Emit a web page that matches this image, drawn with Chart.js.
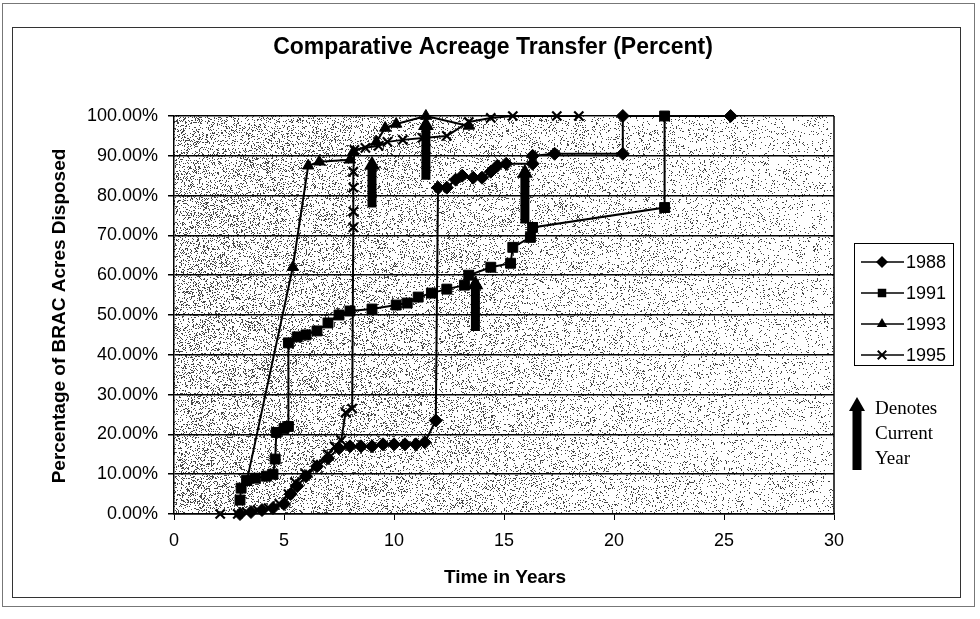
<!DOCTYPE html>
<html>
<head>
<meta charset="utf-8">
<script src="https://cdn.jsdelivr.net/npm/chart.js@4.4.1/dist/chart.umd.min.js"></script>
<style>
  html, body { margin: 0; padding: 0; background: #fff; }
  #wrap { width: 980px; height: 619px; position: relative; }
</style>
</head>
<body>
<div id="wrap"><canvas id="chartAcreage" width="980" height="619"></canvas></div>
<script>
// valores (anos desde o fechamento x percentual de acres)
const seriesLabels = ['1988', '1991', '1993', '1995'];
const pointStyles = ['rectRot', 'rect', 'triangle', 'crossRot'];
const pointSizes = [6.5, 7, 6.5, 6.5];

const t1988 = [3.0, 3.5, 4.0, 4.5, 5.0, 5.3, 5.6, 6.0, 6.5, 7.0, 7.5, 8.0, 8.5, 9.0, 9.5, 10.0, 10.5, 11.0, 11.4, 11.9, 12.0, 12.4, 12.8, 13.1, 13.6, 14.0, 14.4, 14.7, 15.1, 16.3, 16.3, 17.3, 20.4, 20.4, 25.3];
const p1988 = [0, 0.5, 1, 1.5, 2.5, 5, 7, 9.5, 12, 14, 16.5, 17, 17, 17, 17.5, 17.5, 17.5, 17.5, 18, 23.5, 82, 82, 84, 85, 84.5, 84.5, 86, 87.5, 88, 88, 90, 90.5, 90.5, 100, 100];

const t1991 = [3.0, 3.05, 3.3, 3.7, 4.2, 4.5, 4.6, 4.65, 5.0, 5.2, 5.2, 5.6, 6.0, 6.5, 7.0, 7.5, 8.0, 9.0, 10.1, 10.6, 11.1, 11.7, 12.4, 13.2, 13.4, 14.4, 15.3, 15.4, 16.2, 16.3, 22.3, 22.3];
const p1991 = [3.5, 6.5, 8.5, 9, 9.5, 10, 13.8, 20.5, 21.5, 22, 43, 44.5, 45, 46, 48, 50, 51, 51.5, 52.5, 53, 54.5, 55.5, 56.5, 57.5, 60, 62, 63, 67, 69.5, 72, 77, 100];

const t1993 = [3.3, 5.4, 6.1, 6.6, 8.0, 8.15, 9.2, 9.6, 10.1, 11.45, 13.4];
const p1993 = [8, 62, 87.5, 88.5, 89, 91, 93.5, 97, 98, 100, 97.5];

const t1995 = [2.1, 2.9, 3.3, 3.8, 4.3, 4.8, 5.2, 5.5, 6.0, 6.5, 7.0, 7.3, 7.6, 7.8, 8.1, 8.15, 8.15, 8.15, 8.15, 8.2, 8.7, 9.3, 9.7, 10.4, 11.3, 12.4, 13.4, 14.4, 15.4, 17.4, 18.4];
const p1995 = [0, 0, 0.5, 1, 1.5, 2.5, 5, 8, 10, 12.5, 15, 17, 18.5, 25.5, 26.5, 72, 76, 82, 86, 91.5, 92, 92.5, 93.5, 94, 94.5, 95, 98.5, 99.5, 100, 100, 100];

// setas de "ano atual"
const arrowT = [9.0, 11.45, 13.7, 15.95];
const arrowFrom = [77, 84, 46, 73];
const arrowTo = [90, 100, 60, 88];

const allT = [t1988, t1991, t1993, t1995];
const allP = [p1988, p1991, p1993, p1995];

function hash(x, y) {
  let h = Math.imul(x, 374761393) + Math.imul(y, 668265263);
  h = Math.imul(h ^ (h >>> 13), 1274126177);
  h ^= h >>> 16;
  return (h >>> 0) / 4294967296;
}

// fundo pontilhado cinza da area do grafico
const stipplePlugin = {
  id: 'stipple',
  beforeDraw(chart) {
    const a = chart.chartArea;
    const w = Math.round(a.right - a.left), h = Math.round(a.bottom - a.top);
    const c = document.createElement('canvas');
    c.width = w; c.height = h;
    const g = c.getContext('2d');
    const img = g.createImageData(w, h);
    for (let y = 0; y < h; y++) {
      for (let x = 0; x < w; x++) {
        const d = 0.22 - 0.15 * (x / w);
        const v = hash(x, y) < d ? 70 : 255;
        const i = (y * w + x) * 4;
        img.data[i] = v; img.data[i + 1] = v; img.data[i + 2] = v; img.data[i + 3] = 255;
      }
    }
    g.putImageData(img, 0, 0);
    chart.ctx.drawImage(c, a.left, a.top);
  }
};

function drawMarker(ctx, style, x, y, r) {
  ctx.beginPath();
  if (style === 'rectRot') {
    ctx.moveTo(x, y - r); ctx.lineTo(x + r, y); ctx.lineTo(x, y + r); ctx.lineTo(x - r, y); ctx.closePath(); ctx.fill();
  } else if (style === 'rect') {
    const s = r * Math.SQRT1_2;
    ctx.fillRect(x - s, y - s, 2 * s, 2 * s);
  } else if (style === 'triangle') {
    ctx.moveTo(x, y - r); ctx.lineTo(x + r * 0.87, y + r * 0.5); ctx.lineTo(x - r * 0.87, y + r * 0.5); ctx.closePath(); ctx.fill();
  } else {
    const s = r * Math.SQRT1_2;
    ctx.moveTo(x - s, y - s); ctx.lineTo(x + s, y + s);
    ctx.moveTo(x + s, y - s); ctx.lineTo(x - s, y + s);
    ctx.stroke();
  }
}

function drawArrow(ctx, x, yTip, yBase) {
  const shaft = 9, head = 16, headH = 14;
  ctx.beginPath();
  ctx.moveTo(x, yTip);
  ctx.lineTo(x + head / 2, yTip + headH);
  ctx.lineTo(x + shaft / 2, yTip + headH);
  ctx.lineTo(x + shaft / 2, yBase);
  ctx.lineTo(x - shaft / 2, yBase);
  ctx.lineTo(x - shaft / 2, yTip + headH);
  ctx.lineTo(x - head / 2, yTip + headH);
  ctx.closePath();
  ctx.fill();
}

const decorPlugin = {
  id: 'decor',
  afterDatasetsDraw(chart) {
    const ctx = chart.ctx, xs = chart.scales.x, ys = chart.scales.y;
    ctx.save();
    ctx.fillStyle = '#000';
    for (let i = 0; i < arrowT.length; i++) {
      drawArrow(ctx, xs.getPixelForValue(arrowT[i]), ys.getPixelForValue(arrowTo[i]), ys.getPixelForValue(arrowFrom[i]));
    }
    ctx.restore();
  },
  afterDraw(chart) {
    const ctx = chart.ctx, a = chart.chartArea;
    ctx.save();
    ctx.strokeStyle = '#000';
    ctx.fillStyle = '#000';
    // borda direita da area
    ctx.lineWidth = 1.5;
    ctx.beginPath(); ctx.moveTo(a.right, a.top); ctx.lineTo(a.right, a.bottom); ctx.stroke();

    // molduras
    ctx.lineWidth = 1;
    ctx.strokeStyle = '#333';
    ctx.strokeRect(12.5, 27.5, 948, 570);
    ctx.strokeStyle = '#777';
    ctx.strokeRect(2.5, 3.5, 972, 603);

    // titulos
    ctx.fillStyle = '#000';
    ctx.textAlign = 'center';
    ctx.textBaseline = 'middle';
    ctx.font = 'bold 23px "Liberation Sans", Arial, sans-serif';
    ctx.fillText('Comparative Acreage Transfer (Percent)', 493, 48);
    ctx.font = 'bold 19px "Liberation Sans", Arial, sans-serif';
    ctx.fillText('Time in Years', 505, 578);
    ctx.save();
    ctx.translate(60, 316);
    ctx.rotate(-Math.PI / 2);
    ctx.fillText('Percentage of BRAC Acres Disposed', 0, 0);
    ctx.restore();

    // legenda
    ctx.strokeStyle = '#000';
    ctx.lineWidth = 1;
    ctx.strokeRect(854.5, 243.5, 99, 122);
    const rows = [262, 293, 324, 355];
    ctx.font = '18px "Liberation Sans", Arial, sans-serif';
    ctx.textAlign = 'left';
    for (let i = 0; i < seriesLabels.length; i++) {
      const y = rows[i];
      ctx.lineWidth = 1.5;
      ctx.beginPath(); ctx.moveTo(861, y); ctx.lineTo(904, y); ctx.stroke();
      ctx.lineWidth = 2;
      drawMarker(ctx, pointStyles[i], 882, y, 6);
      ctx.fillText(seriesLabels[i], 906, y + 1);
    }

    // nota da seta
    drawArrow(ctx, 857, 397, 470);
    ctx.font = '19px "Liberation Serif", "Times New Roman", serif';
    ctx.fillText('Denotes', 875, 409);
    ctx.fillText('Current', 875, 434);
    ctx.fillText('Year', 875, 459);
    ctx.restore();
  }
};

Chart.defaults.font.family = '"Liberation Sans", Arial, sans-serif';
Chart.defaults.color = '#000';

const ctxAcreage = document.getElementById('chartAcreage').getContext('2d');
const chartAcreage = new Chart(ctxAcreage, {
  type: 'scatter',
  data: {
    datasets: seriesLabels.map((label, i) => ({
      label: label,
      data: allT[i].map((t, j) => ({ x: t, y: allP[i][j] })),
      showLine: true,
      borderColor: '#000',
      backgroundColor: '#000',
      borderWidth: 2,
      pointStyle: pointStyles[i],
      pointRadius: pointSizes[i],
      pointBorderWidth: pointStyles[i] === 'crossRot' ? 2.2 : 1,
      pointHoverRadius: pointSizes[i],
      tension: 0,
      clip: 8
    }))
  },
  options: {
    responsive: false,
    animation: false,
    layout: { padding: { top: 116, right: 146, bottom: 0, left: 0 } },
    plugins: {
      legend: { display: false },
      tooltip: { enabled: false },
      title: { display: false }
    },
    scales: {
      x: {
        type: 'linear',
        min: 0, max: 30,
        afterFit: s => { s.height = 105; },
        ticks: { stepSize: 5, padding: 10, font: { size: 18 } },
        grid: { drawOnChartArea: false, color: '#000', tickLength: 6 },
        border: { color: '#000', width: 1.5 }
      },
      y: {
        min: 0, max: 100,
        afterFit: s => { s.width = 174; },
        ticks: { stepSize: 10, padding: 10, font: { size: 18 }, callback: v => v.toFixed(2) + '%' },
        grid: { color: '#000', lineWidth: 1.5, tickLength: 6 },
        border: { color: '#000', width: 1.5 }
      }
    }
  },
  plugins: [stipplePlugin, decorPlugin]
});
</script>
</body>
</html>
